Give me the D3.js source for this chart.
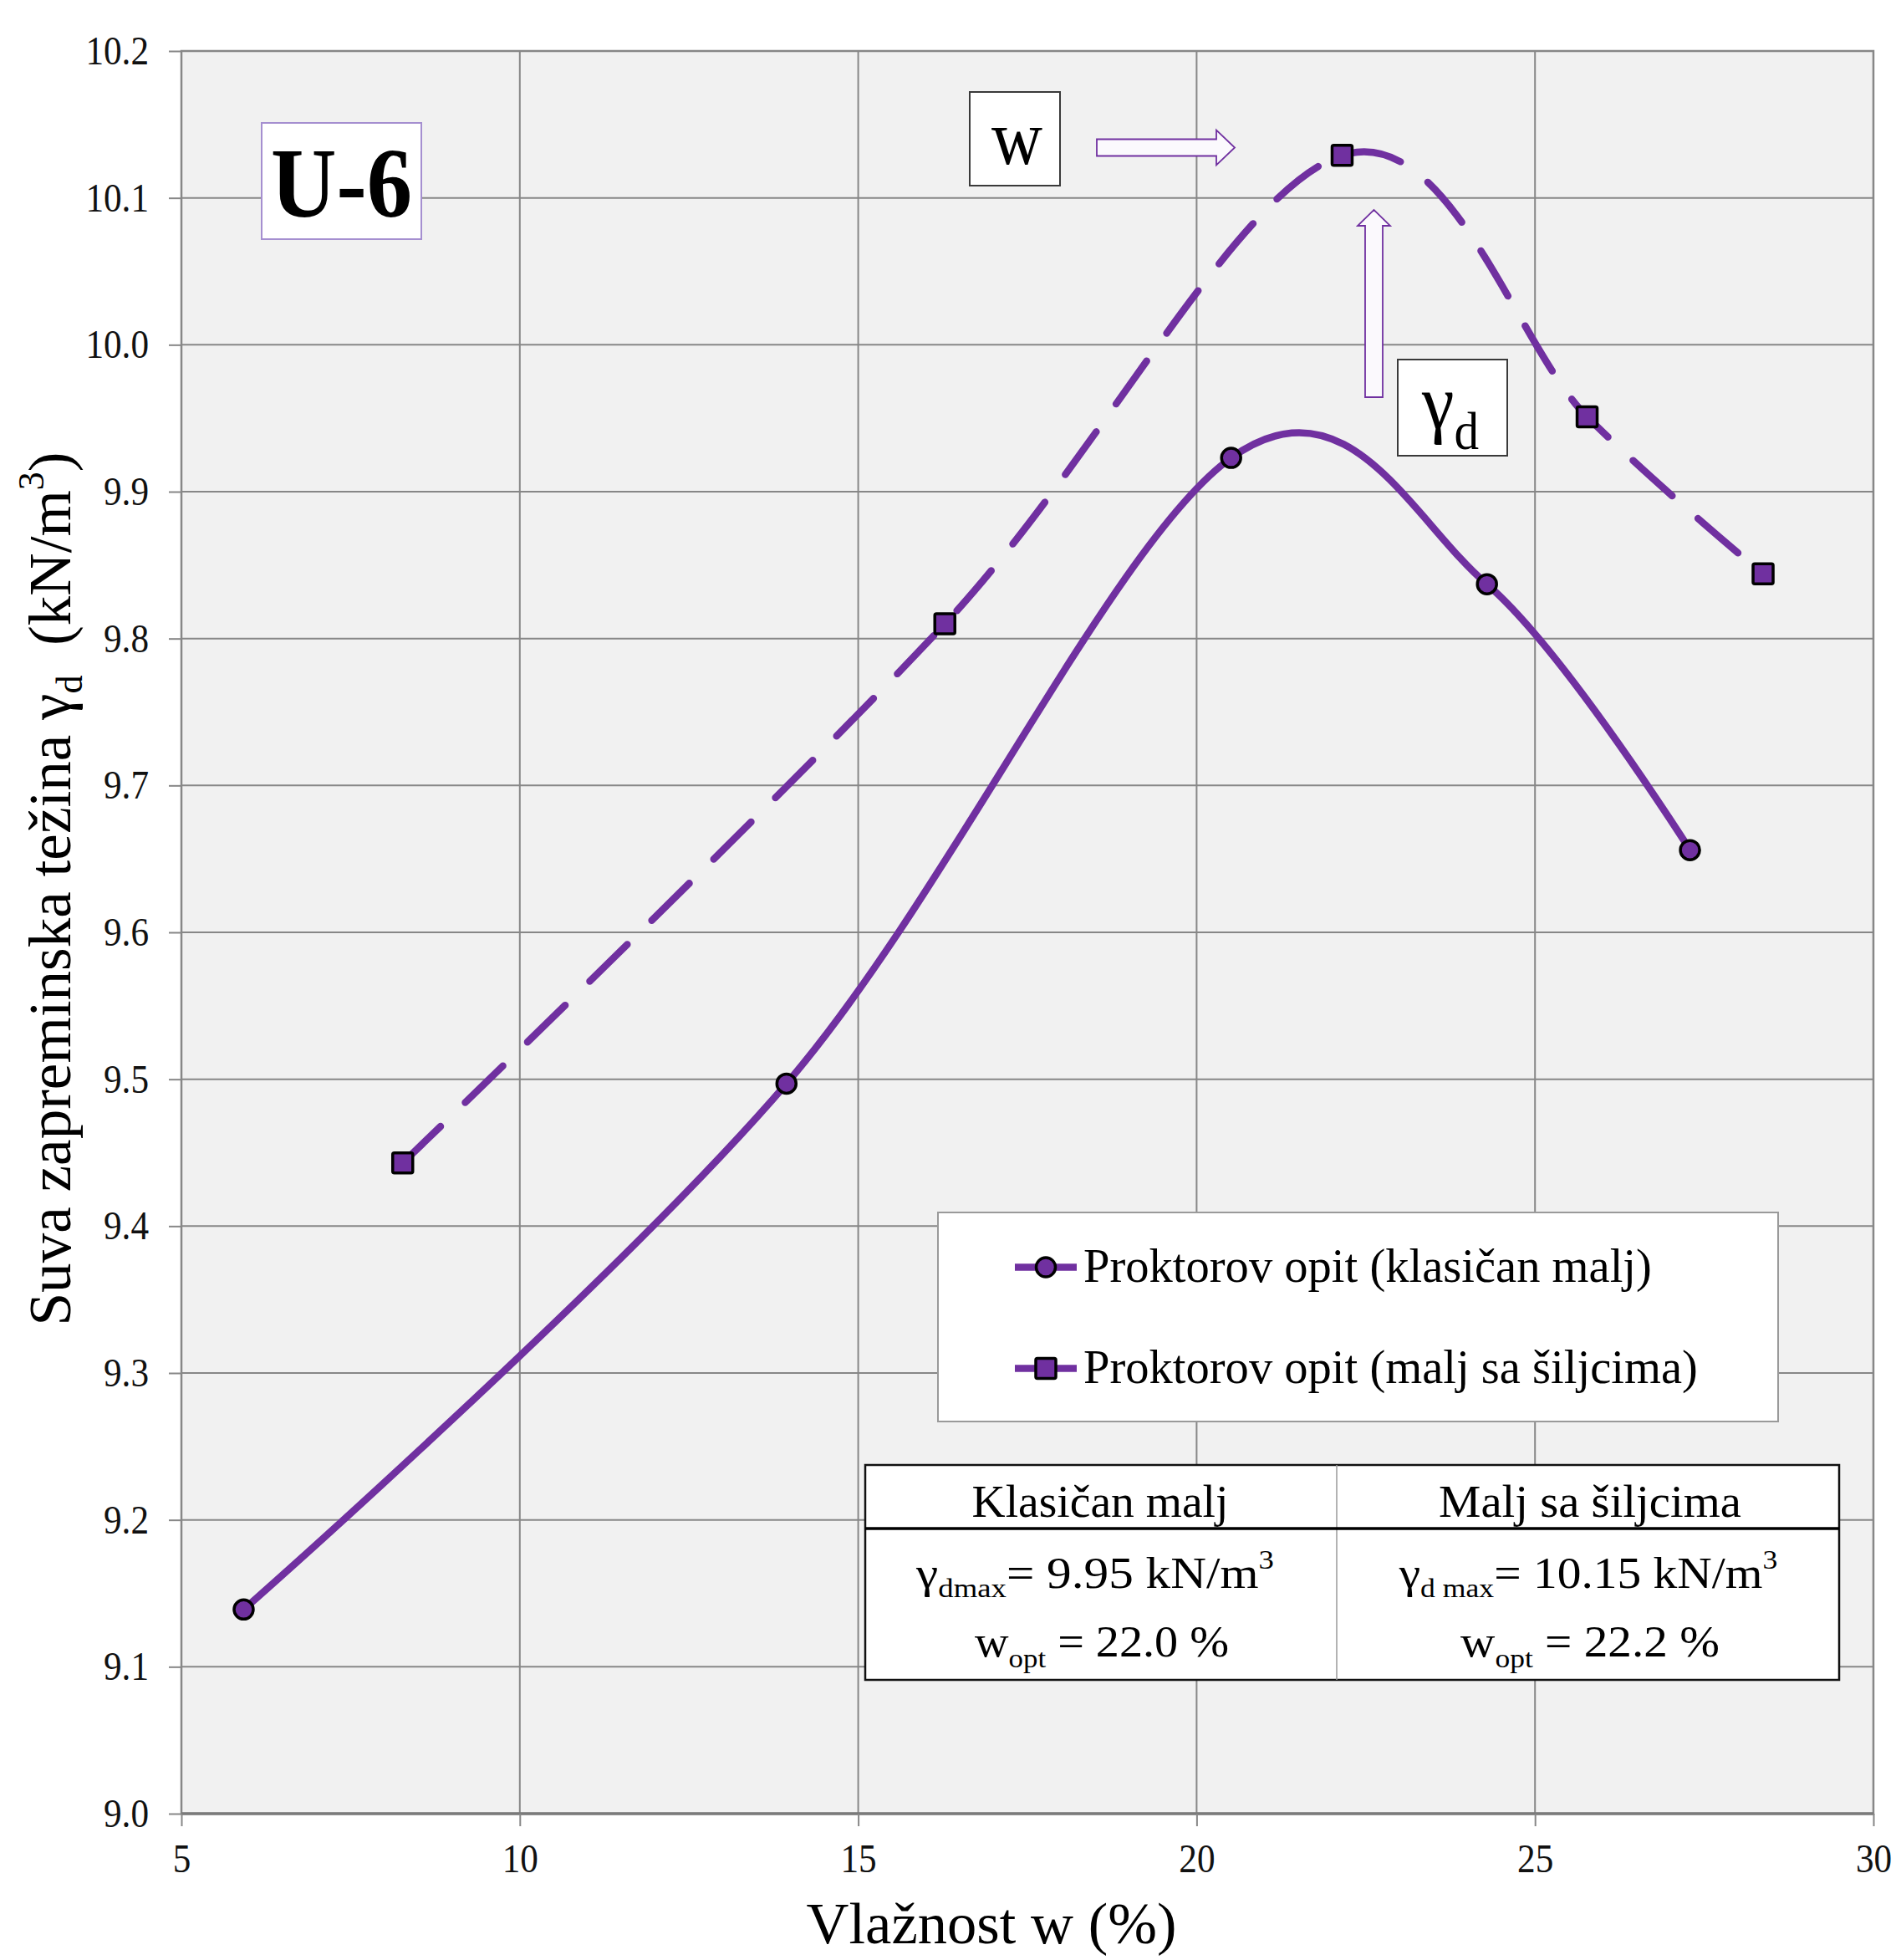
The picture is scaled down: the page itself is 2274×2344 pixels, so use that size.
<!DOCTYPE html>
<html><head><meta charset="utf-8">
<script src="https://cdn.jsdelivr.net/npm/d3@7"></script>
<style>
html,body{margin:0;padding:0;background:#fff}
svg{display:block}
text{font-family:"Liberation Serif","Times New Roman",serif;white-space:pre}
</style>
</head><body>
<svg id="chart" width="2274" height="2344"></svg>
<script>
// ---------------- DATA ----------------
const seriesNames = ["Proktorov opit (klasičan malj)", "Proktorov opit (malj sa šiljcima)"];
const moistureKlasican = [5.92, 13.94, 20.51, 24.29, 27.29];
const gammaKlasican    = [9.139, 9.497, 9.923, 9.837, 9.656];
const moistureSiljci   = [8.27, 16.28, 22.15, 25.77, 28.37];
const gammaSiljci      = [9.443, 9.810, 10.129, 9.951, 9.844];
const xTicks = [5, 10, 15, 20, 25, 30];
const yTicks = [9.0, 9.1, 9.2, 9.3, 9.4, 9.5, 9.6, 9.7, 9.8, 9.9, 10.0, 10.1, 10.2];
const tableHeaders = ["Klasičan malj", "Malj sa šiljcima"];
const gammaMax = [9.95, 10.15];
const wOpt = [22.0, 22.2];
const sampleLabel = "U-6";

// ---------------- LAYOUT ----------------
const plot = {left: 217, right: 2241, top: 61, bottom: 2169};
const purple = "#7030A0";
const gridCol = "#878787";
const lineW = 8.5;

const svg = d3.select("#chart");
const x = d3.scaleLinear().domain([5, 30]).range([plot.left, plot.right]);
const y = d3.scaleLinear().domain([9.0, 10.2]).range([plot.bottom, plot.top]);

function richText(parent, o) {
  const g = parent.append("g").attr("transform", `translate(${o.x},${o.y})` + (o.rotate ? ` rotate(${o.rotate})` : ""));
  const inner = g.append("g");
  const t = inner.append("text")
    .attr("xml:space", "preserve")
    .attr("text-anchor", o.anchor || "start")
    .attr("font-size", o.size)
    .attr("font-weight", o.weight || "normal")
    .attr("fill", "#000");
  let shift = 0;
  o.parts.forEach(([str, kind]) => {
    const ts = t.append("tspan").text(str);
    let target = 0, fs = o.size;
    if (kind === "sub") { target = o.size * (o.subDy || 0.28); fs = o.size * (o.subSize || 0.65); }
    if (kind === "sup") { target = -o.size * (o.supDy || 0.42); fs = o.size * (o.subSize || 0.62); }
    ts.attr("font-size", fs).attr("dy", target - shift);
    shift = target;
  });
  if (o.width) {
    const w = t.node().getBBox().width;
    inner.attr("transform", `scale(${o.width / w},1)`);
  }
  return t;
}

// plot background
svg.append("rect").attr("x", plot.left).attr("y", plot.top)
  .attr("width", plot.right - plot.left).attr("height", plot.bottom - plot.top)
  .attr("fill", "#f1f1f1");

// grid
const grid = svg.append("g");
grid.selectAll(".hg").data(yTicks).join("line")
  .attr("x1", plot.left).attr("x2", plot.right)
  .attr("y1", d => y(d)).attr("y2", d => y(d))
  .attr("stroke", gridCol).attr("stroke-width", 2);
grid.selectAll(".vg").data(xTicks).join("line")
  .attr("y1", plot.top).attr("y2", plot.bottom)
  .attr("x1", d => x(d)).attr("x2", d => x(d))
  .attr("stroke", gridCol).attr("stroke-width", 2);
svg.append("rect").attr("x", plot.left).attr("y", plot.top)
  .attr("width", plot.right - plot.left).attr("height", plot.bottom - plot.top)
  .attr("fill", "none").attr("stroke", gridCol).attr("stroke-width", 2.5);
svg.append("line").attr("x1", plot.left).attr("x2", plot.right)
  .attr("y1", plot.bottom).attr("y2", plot.bottom)
  .attr("stroke", "#7a7a7a").attr("stroke-width", 3.5);

// axes
const yAxis = svg.append("g").attr("transform", `translate(${plot.left},0)`)
  .call(d3.axisLeft(y).tickValues(yTicks).tickFormat(d3.format(".1f")).tickSize(15).tickPadding(24));
const xAxis = svg.append("g").attr("transform", `translate(0,${plot.bottom})`)
  .call(d3.axisBottom(x).tickValues(xTicks).tickFormat(d3.format("d")).tickSize(15).tickPadding(21));
[yAxis, xAxis].forEach(a => {
  a.select(".domain").remove();
  a.selectAll(".tick line").attr("stroke", gridCol).attr("stroke-width", 2);
  a.selectAll(".tick text")
    .attr("font-family", '"Liberation Serif","Times New Roman",serif')
    .attr("font-size", 48).attr("fill", "#111")
    .each(function() {
      const w = this.getComputedTextLength();
      d3.select(this).attr("textLength", w * 0.9).attr("lengthAdjust", "spacingAndGlyphs");
    });
});

// series
const curve = d3.curveCardinal.tension(0);
const line = d3.line().x(d => x(d[0])).y(d => y(d[1])).curve(curve);
const s1 = moistureKlasican.map((v, i) => [v, gammaKlasican[i]]);
const s2 = moistureSiljci.map((v, i) => [v, gammaSiljci[i]]);

svg.append("path").datum(s1).attr("d", line)
  .attr("fill", "none").attr("stroke", purple).attr("stroke-width", lineW)
  .attr("stroke-linecap", "round").attr("stroke-linejoin", "round");
svg.append("path").datum(s2).attr("d", line)
  .attr("fill", "none").attr("stroke", purple).attr("stroke-width", lineW)
  .attr("stroke-dasharray", "63,41").attr("stroke-linecap", "round");

svg.append("g").selectAll("circle").data(s1).join("circle")
  .attr("cx", d => x(d[0])).attr("cy", d => y(d[1])).attr("r", 11.5)
  .attr("fill", purple).attr("stroke", "#000").attr("stroke-width", 3.5);
const sq = 24;
svg.append("g").selectAll("rect").data(s2).join("rect")
  .attr("x", d => x(d[0]) - sq / 2).attr("y", d => y(d[1]) - sq / 2)
  .attr("width", sq).attr("height", sq).attr("rx", 2)
  .attr("fill", purple).attr("stroke", "#000").attr("stroke-width", 3.5);

// U-6 label
svg.append("rect").attr("x", 313).attr("y", 147).attr("width", 191).attr("height", 139)
  .attr("fill", "#fff").attr("stroke", "#a58fd0").attr("stroke-width", 2);
richText(svg, {x: 408.5, y: 259, anchor: "middle", size: 118, weight: "bold", parts: [[sampleLabel, ""]], width: 169});

// w box & arrows
svg.append("rect").attr("x", 1160).attr("y", 110).attr("width", 108).attr("height", 112)
  .attr("fill", "#fff").attr("stroke", "#3a3a3a").attr("stroke-width", 2);
richText(svg, {x: 1216.5, y: 196, anchor: "middle", size: 93, parts: [["w", ""]], width: 61});
(function() {
  const x0 = 1312, xb = 1455, xt = 1477, cy = 176.5, sh = 10, hh = 21;
  svg.append("path").attr("d", `M${x0},${cy - sh}L${xb},${cy - sh}L${xb},${cy - hh}L${xt},${cy}L${xb},${cy + hh}L${xb},${cy + sh}L${x0},${cy + sh}Z`)
    .attr("fill", "#fbf9fd").attr("stroke", purple).attr("stroke-width", 1.8);
  const cx = 1643.5, yb = 475, yh = 270, ytp = 251, sw = 10.5, hw = 19.5;
  svg.append("path").attr("d", `M${cx - sw},${yb}L${cx - sw},${yh}L${cx - hw},${yh}L${cx},${ytp}L${cx + hw},${yh}L${cx + sw},${yh}L${cx + sw},${yb}Z`)
    .attr("fill", "#fbf9fd").attr("stroke", purple).attr("stroke-width", 1.8);
})();

// gamma_d box
svg.append("rect").attr("x", 1672).attr("y", 430).attr("width", 131).attr("height", 115)
  .attr("fill", "#fff").attr("stroke", "#3a3a3a").attr("stroke-width", 2);
richText(svg, {x: 1701, y: 512, anchor: "start", size: 93, parts: [["γ", ""], ["d", "sub"]], subSize: 0.68, subDy: 0.27, width: 69});

// legend
svg.append("rect").attr("x", 1122).attr("y", 1450).attr("width", 1005).attr("height", 250)
  .attr("fill", "#fff").attr("stroke", "#9a9a9a").attr("stroke-width", 2);
const legY = [1515.5, 1636.5], legW = [680, 735];
seriesNames.forEach((name, i) => {
  svg.append("line").attr("x1", 1214).attr("x2", 1288).attr("y1", legY[i]).attr("y2", legY[i])
    .attr("stroke", purple).attr("stroke-width", lineW);
  if (i === 0) {
    svg.append("circle").attr("cx", 1251).attr("cy", legY[i]).attr("r", 11.5)
      .attr("fill", purple).attr("stroke", "#000").attr("stroke-width", 3.5);
  } else {
    svg.append("rect").attr("x", 1251 - sq / 2).attr("y", legY[i] - sq / 2).attr("width", sq).attr("height", sq).attr("rx", 2)
      .attr("fill", purple).attr("stroke", "#000").attr("stroke-width", 3.5);
  }
  richText(svg, {x: 1296, y: legY[i] + 17, anchor: "start", size: 56, parts: [[name, ""]], width: legW[i]});
});

// table
const tb = {l: 1035, r: 2200, t: 1752, m: 1828, b: 2009, d: 1599};
svg.append("rect").attr("x", tb.l).attr("y", tb.t).attr("width", tb.r - tb.l).attr("height", tb.b - tb.t)
  .attr("fill", "#fff").attr("stroke", "#111").attr("stroke-width", 2.5);
svg.append("line").attr("x1", tb.d).attr("x2", tb.d).attr("y1", tb.t).attr("y2", tb.b)
  .attr("stroke", "#9a9a9a").attr("stroke-width", 1.5);
svg.append("line").attr("x1", tb.l).attr("x2", tb.r).attr("y1", tb.m).attr("y2", tb.m)
  .attr("stroke", "#000").attr("stroke-width", 3.5);
const colC = [1316, 1902];
const hdrW = [307, 362], r1W = [429, 454], r2W = [304, 310];
const subLabel = ["dmax", "d max"];
tableHeaders.forEach((h, i) => {
  richText(svg, {x: colC[i], y: 1814, anchor: "middle", size: 54, parts: [[h, ""]], width: hdrW[i]});
  richText(svg, {x: i === 0 ? 1310 : 1900, y: 1899, anchor: "middle", size: 52,
    parts: [["γ", ""], [subLabel[i], "sub"], ["= " + gammaMax[i].toFixed(2) + " kN/m", ""], ["3", "sup"]],
    subSize: 0.62, subDy: 0.22, supDy: 0.45, width: r1W[i]});
  richText(svg, {x: i === 0 ? 1318 : 1902, y: 1981, anchor: "middle", size: 52,
    parts: [["w", ""], ["opt", "sub"], [" = " + wOpt[i].toFixed(1) + " %", ""]],
    subSize: 0.62, subDy: 0.25, width: r2W[i]});
});

// axis titles
richText(svg, {x: 1186, y: 2324, anchor: "middle", size: 70, parts: [["Vlažnost w (%)", ""]], width: 443});
richText(svg, {x: 84, y: 1063, anchor: "middle", size: 71, rotate: -90,
  parts: [["Suva zapreminska težina γ", ""], ["d", "sub"], ["  (kN/m", ""], ["3", "sup"], [")", ""]],
  subSize: 0.62, subDy: 0.2, supDy: 0.45, width: 1045});
</script>
</body></html>
